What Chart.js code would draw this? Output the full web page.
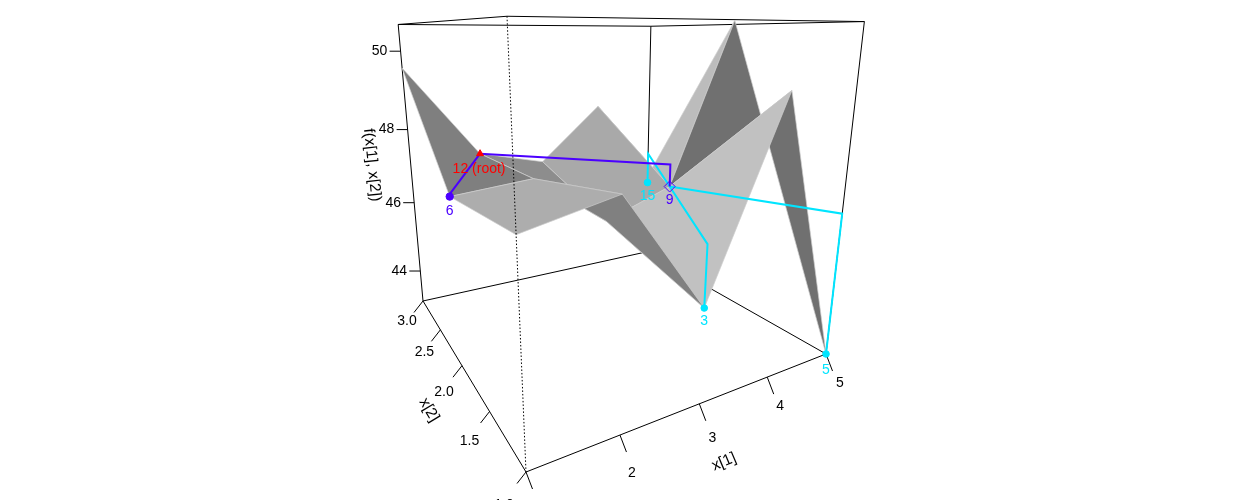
<!DOCTYPE html>
<html>
<head>
<meta charset="utf-8">
<title>f(x[1], x[2])</title>
<script src="https://cdn.jsdelivr.net/npm/chart.js"></script>
<style>
  html, body { margin: 0; padding: 0; background: #fff; }
  canvas { display: block; }
</style>
</head>
<body>
<canvas id="chart" width="1242" height="500"></canvas>
<script>
// surface heights, one row per x[2], one column per x[1]
const x1Values = [1, 2, 3, 4, 5];
const x2Values = [1, 2, 3];
const fAtX2Is1 = [47.44, 47.82, 45.24, 49.36, 43.08];
const fAtX2Is2 = [47.11, 47.26, 45.93, 46.57, 50.75];
const fAtX2Is3 = [49.58, 47.16, 46.72, 48.26, 45.8];

// tree nodes
const nodeLabels = ["12 (root)", "6", "9", "3", "5", "15"];
const nodeX1 = [2, 1, 4, 3, 5, 5];
const nodeX2 = [3, 2, 2, 1, 1, 3];
const nodeF = [47.16, 47.11, 46.57, 45.24, 43.08, 45.58];
const nodeParent = [null, 0, 0, 2, 2, 2];

// axes
const x1Ticks = [1, 2, 3, 4, 5];
const x2Ticks = [1, 1.5, 2, 2.5, 3];
const fTicks = [44, 46, 48, 50];
const x1Range = [1, 5];
const x2Range = [1, 3];
const fRange = [43.08, 50.65];

// view of the box, fitted to the picture
const viewOrigin = [526, 472];
const viewX1 = [603.9, 12.2];
const viewX2 = [168.7, 22.3];
const viewF = [-120.4, -459];
const viewDepth = [0.3679, 0.6423, -0.2];

const project = (x1, x2, f) => {
  const u = (x1 - x1Range[0]) / (x1Range[1] - x1Range[0]);
  const v = (x2 - x2Range[0]) / (x2Range[1] - x2Range[0]);
  const w = (f - fRange[0]) / (fRange[1] - fRange[0]);
  const depth = 1 + viewDepth[0] * u + viewDepth[1] * v + viewDepth[2] * w;
  return {
    x: (viewOrigin[0] + viewX1[0] * u + viewX2[0] * v + viewF[0] * w) / depth,
    y: (viewOrigin[1] + viewX1[1] * u + viewX2[1] * v + viewF[1] * w) / depth,
  };
};

const surface = [fAtX2Is1, fAtX2Is2, fAtX2Is3];
const surfacePoint = (i, j) =>
  project(x1Values[i], x2Values[j], surface[j][i]);

const gap = { x: NaN, y: NaN };
const lineDataset = (data, color, width, dash) => ({
  data,
  showLine: true,
  fill: false,
  borderColor: color,
  borderWidth: width,
  borderDash: dash || [],
  pointRadius: 0,
  tension: 0,
});

const [loX1, hiX1] = x1Range;
const [loX2, hiX2] = x2Range;
const [loF, hiF] = fRange;

const backBox = lineDataset(
  [
    project(loX1, hiX2, hiF), project(hiX1, hiX2, hiF), project(hiX1, hiX2, loF), project(loX1, hiX2, loF),
    project(loX1, hiX2, hiF), project(loX1, loX2, hiF), project(hiX1, loX2, hiF), project(hiX1, hiX2, hiF), gap,
    project(hiX1, loX2, hiF), project(hiX1, loX2, loF), project(hiX1, hiX2, loF), gap,
    project(loX1, hiX2, loF), project(loX1, loX2, loF), project(hiX1, loX2, loF),
  ],
  "#000",
  1,
);
const frontDotted = lineDataset(
  [project(loX1, loX2, hiF), project(loX1, loX2, loF)],
  "#000",
  1,
  [1.5, 2],
);

// cells are listed back to front: [x[1] index, x[2] index, shade]
const cells = [
  [3, 1, "#bcbcbc"],
  [3, 0, "#707070"],
  [2, 1, "#a9a9a9"],
  [2, 0, "#c1c1c1"],
  [1, 1, "#8d8d8d"],
  [1, 0, "#808080"],
  [0, 1, "#7f7f7f"],
  [0, 0, "#adadad"],
];
const cellDatasets = cells.map(([i, j, shade]) => ({
  data: [
    surfacePoint(i, j),
    surfacePoint(i + 1, j),
    surfacePoint(i + 1, j + 1),
    surfacePoint(i, j + 1),
    surfacePoint(i, j),
  ],
  showLine: true,
  fill: "shape",
  backgroundColor: shade,
  borderColor: "#cdcdcd",
  borderWidth: 0.7,
  pointRadius: 0,
  tension: 0,
}));

const depthColors = ["#ff0000", "#4b00ff", "#00e5ff"];
const nodeDepth = nodeParent.map((p) =>
  p === null ? 0 : nodeParent[p] === null ? 1 : 2,
);
const pathDatasets = nodeParent.flatMap((p, k) => {
  if (p === null) return [];
  return [
    lineDataset(
      [
        project(nodeX1[p], nodeX2[p], nodeF[p]),
        project(nodeX1[k], nodeX2[k], nodeF[p]),
        project(nodeX1[k], nodeX2[k], nodeF[k]),
      ],
      depthColors[nodeDepth[k]],
      2,
    ),
  ];
});
// cyan paths sit under the blue ones
pathDatasets.sort((a, b) => (a.borderColor === depthColors[2] ? -1 : 0) - (b.borderColor === depthColors[2] ? -1 : 0));

const nodePointStyles = ["triangle", "circle", "rectRot", "circle", "circle", "circle"];
const nodePointSizes = [4, 3.7, 5.5, 3.3, 3.3, 3.3];
const nodePoints = {
  data: nodeLabels.map((_, k) => project(nodeX1[k], nodeX2[k], nodeF[k])),
  showLine: false,
  pointStyle: nodePointStyles,
  pointRadius: nodePointSizes,
  pointBackgroundColor: nodeDepth.map((d, k) =>
    nodePointStyles[k] === "rectRot" ? "rgba(0,0,0,0)" : depthColors[d],
  ),
  pointBorderColor: nodeDepth.map((d) => depthColors[d]),
  pointBorderWidth: 1,
};

const tickDataset = (points, offset) =>
  lineDataset(
    points.flatMap((p) => [p, { x: p.x + offset[0], y: p.y + offset[1] }, gap]),
    "#000",
    1,
  );
const x1TickPoints = x1Ticks.map((t) => project(t, loX2, loF));
const x2TickPoints = x2Ticks.map((t) => project(loX1, t, loF));
const fTickPoints = fTicks.map((t) => project(loX1, hiX2, t));
const x1TickOffset = [6.5, 17];
const x2TickOffset = [-9, 11.5];
const fTickOffset = [-11, 0];
const x1LabelOffsets = [[12, 38], [12, 38], [13, 34], [13, 29], [14, 29]];
const x2LabelOffsets = [[-22, 33], [-20, 30], [-18, 26], [-16, 22.5], [-16, 20]];
const fLabelOffset = [-21, 0];
const nodeLabelOffsets = [[-1, 15], [0, 15], [0, 14], [0, 13], [0, 16], [0, 14]];

// painted in this order, Chart.js draws the last dataset first
const paintOrder = [
  backBox,
  ...cellDatasets,
  frontDotted,
  tickDataset(x1TickPoints, x1TickOffset),
  tickDataset(x2TickPoints, x2TickOffset),
  tickDataset(fTickPoints, fTickOffset),
  ...pathDatasets,
  nodePoints,
];

const tickFont = '14px "Liberation Sans", Arial, sans-serif';
const titleFont = '15.5px "Liberation Sans", Arial, sans-serif';
const textLabels = {
  id: "textLabels",
  afterDatasetsDraw(chart) {
    const { ctx, scales } = chart;
    const at = (p) => [scales.x.getPixelForValue(p.x), scales.y.getPixelForValue(p.y)];
    const put = (text, p, dx, dy, color, angle, font) => {
      const [px, py] = at(p);
      ctx.save();
      ctx.translate(px + dx, py + dy);
      ctx.rotate(((angle || 0) * Math.PI) / 180);
      ctx.font = font || tickFont;
      ctx.fillStyle = color || "#000";
      ctx.textAlign = "center";
      ctx.textBaseline = "middle";
      ctx.fillText(text, 0, 0);
      ctx.restore();
    };
    x1Ticks.forEach((t, k) => put(String(t), x1TickPoints[k], ...x1LabelOffsets[k]));
    x2Ticks.forEach((t, k) => put(t.toFixed(1), x2TickPoints[k], ...x2LabelOffsets[k]));
    fTicks.forEach((t, k) => put(String(t), fTickPoints[k], ...fLabelOffset));
    put("f(x[1], x[2])", { x: 372, y: 165 }, 0, 0, "#000", 84, titleFont);
    put("x[2]", { x: 429, y: 410 }, 0, 0, "#000", 59, titleFont);
    put("x[1]", { x: 724, y: 462 }, 0, 0, "#000", -23, titleFont);
    nodeLabels.forEach((label, k) => {
      put(label, nodePoints.data[k], ...nodeLabelOffsets[k], depthColors[nodeDepth[k]]);
    });
  },
};

new Chart(document.getElementById("chart"), {
  type: "scatter",
  data: { datasets: paintOrder.slice().reverse() },
  plugins: [textLabels],
  options: {
    responsive: false,
    animation: false,
    layout: { padding: 0, autoPadding: false },
    plugins: { legend: { display: false }, tooltip: { enabled: false } },
    scales: {
      x: { type: "linear", min: 0, max: 1242, display: false },
      y: { type: "linear", min: 0, max: 500, reverse: true, display: false },
    },
  },
});
</script>
</body>
</html>
